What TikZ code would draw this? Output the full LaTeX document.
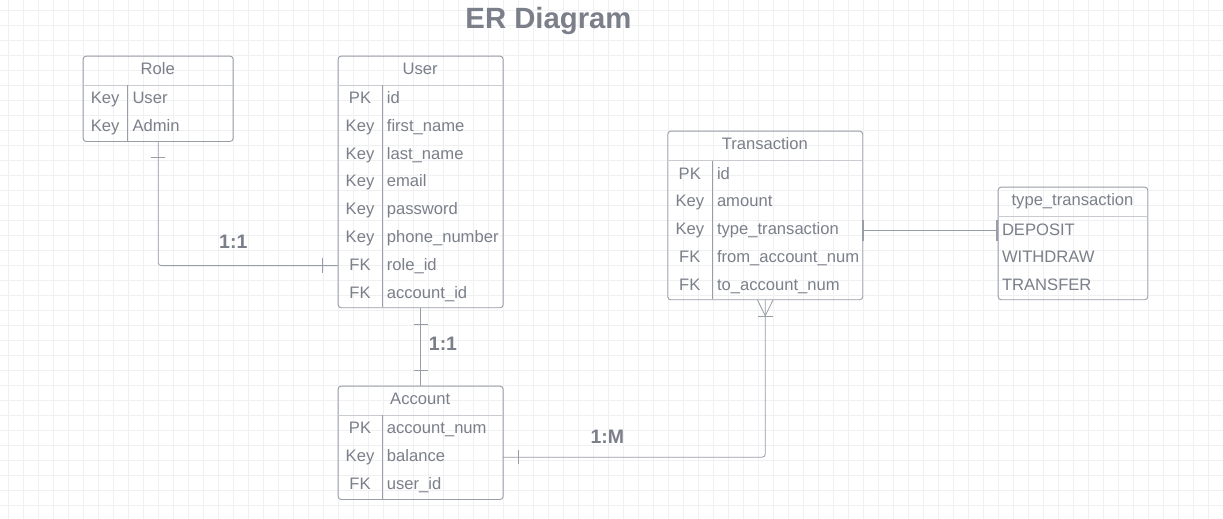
\documentclass[tikz,border=0pt]{standalone}
\usepackage{fontspec}
\setmainfont{Liberation Sans}
\definecolor{txtgray}{RGB}{122,127,137}
\definecolor{linegray}{RGB}{152,157,167}
\definecolor{hdrgray}{RGB}{200,203,208}
\definecolor{gridgray}{RGB}{240,240,242}

\begin{document}
\begin{tikzpicture}[x=1pt,y=-1pt,
  tbl/.style={draw=linegray,line width=0.9pt,rounded corners=3pt,inner sep=0,anchor=north west},
  hdrline/.style={hdrgray,line width=0.9pt},
  colline/.style={linegray,line width=0.9pt},
  hdr/.style={font=\fontsize{16.6}{19}\selectfont,text=txtgray,inner sep=0,anchor=mid},
  keytxt/.style={font=\fontsize{16.6}{19}\selectfont,text=txtgray,inner sep=0,anchor=mid},
  fld/.style={font=\fontsize{16.6}{19}\selectfont,text=txtgray,inner sep=0,anchor=mid west},
  lnk/.style={linegray,line width=0.8pt},
  bar/.style={linegray,line width=1.4pt},
  card/.style={font=\bfseries\fontsize{19.5}{22}\selectfont,text=txtgray,inner sep=0},
  ttl/.style={font=\bfseries\fontsize{29.3}{33}\selectfont,text=txtgray,inner sep=0,anchor=base}]
\useasboundingbox (0,0) rectangle (1223,519);
\fill[white] (0,0) rectangle (1223,519);
% background grid
\foreach \gx in {8.3,23.3,...,1223} \draw[gridgray,line width=0.8pt] (\gx,0) -- (\gx,519);
\foreach \gy in {10.7,25.7,...,519} \draw[gridgray,line width=0.8pt] (0,\gy) -- (1223,\gy);

\node[ttl] (title) at (548.5,28.3) {ER Diagram};

% Role
\node[tbl,minimum width=150,minimum height=85.3] (role) at (82.7,55.7) {};
\draw[hdrline] (82.7,85) -- (232.7,85);
\draw[colline] (127.7,85) -- (127.7,141);
\node[hdr] (roleh) at (157.7,71.6) {Role};
\foreach \k/\f [count=\i] in {Key/User,Key/Admin} {
  \node[keytxt] (rk\i) at (105.2,{87+28*(\i-0.5)}) {\k};
  \node[fld] (rf\i) at (132.3,{87+28*(\i-0.5)}) {\f};
}

% User
\node[tbl,minimum width=165,minimum height=251.6] (user) at (337.7,55.7) {};
\draw[hdrline] (337.7,85) -- (502.7,85);
\draw[colline] (382.3,85) -- (382.3,307.3);
\node[hdr] (userh) at (420.2,71.6) {User};
\foreach \k/\f [count=\i] in {PK/id,Key/first\_name,Key/last\_name,Key/email,Key/password,Key/phone\_number,FK/role\_id,FK/account\_id} {
  \coordinate (ur\i) at (337.7,{85+27.79*(\i-0.5)});
  \node[keytxt] (uk\i) at (360,{87+27.79*(\i-0.5)}) {\k};
  \node[fld] (uf\i) at (386.7,{87+27.79*(\i-0.5)}) {\f};
}

% Transaction
\node[tbl,minimum width=195,minimum height=168.6] (trans) at (667.3,130.7) {};
\draw[hdrline] (667.3,160.7) -- (862.3,160.7);
\draw[colline] (712.3,160.7) -- (712.3,299.3);
\node[hdr] (transh) at (764.8,146.9) {Transaction};
\foreach \k/\f [count=\i] in {PK/id,Key/amount,Key/type\_transaction,FK/from\_account\_num,FK/to\_account\_num} {
  \coordinate (tr\i) at (862.3,{160.7+27.72*(\i-0.5)});
  \node[keytxt] (tk\i) at (689.8,{162.7+27.72*(\i-0.5)}) {\k};
  \node[fld] (tf\i) at (716.8,{162.7+27.72*(\i-0.5)}) {\f};
}

% type_transaction
\node[tbl,minimum width=149.6,minimum height=112.6] (ttype) at (997.7,186.7) {};
\draw[hdrline] (997.7,216.7) -- (1147.3,216.7);
\node[hdr] (ttypeh) at (1072.5,202.9) {type\_transaction};
\foreach \f [count=\i] in {DEPOSIT,WITHDRAW,TRANSFER} {
  \node[fld] (yf\i) at (1001.8,{218.7+27.53*(\i-0.5)}) {\f};
}

% Account
\node[tbl,minimum width=165,minimum height=113.3] (account) at (337.7,385.7) {};
\draw[hdrline] (337.7,415.3) -- (502.7,415.3);
\draw[colline] (382.3,415.3) -- (382.3,499);
\node[hdr] (accounth) at (420.2,401.7) {Account};
\foreach \k/\f [count=\i] in {PK/account\_num,Key/balance,FK/user\_id} {
  \coordinate (ar\i) at (502.7,{415.3+27.9*(\i-0.5)});
  \node[keytxt] (ak\i) at (360,{417.3+27.9*(\i-0.5)}) {\k};
  \node[fld] (af\i) at (386.7,{417.3+27.9*(\i-0.5)}) {\f};
}

% Role -- User
\draw[lnk,rounded corners=3pt] (role.south) |- (ur7);
\draw[lnk] (role.south) ++(-7,15.3) -- ++(14,0);
\draw[lnk] (ur7) ++(-15.4,-7.3) -- ++(0,14.6);
\node[card] (rolecard) at (233.3,241.3) {1:1};

% User -- Account
\draw[lnk] (user.south) -- (account.north);
\draw[lnk] (user.south) ++(-7,16) -- ++(14,0);
\draw[lnk] (account.north) ++(-7,-15.4) -- ++(14,0);
\node[card] (accard) at (443,344) {1:1};

% Transaction -- type_transaction
\draw[lnk] (tr3) -- (ttype.west |- tr3);
\draw[bar] (tr3) ++(0.6,-10.5) -- ++(0,21);
\draw[bar] (ttype.west |- tr3) ++(-0.6,-10.5) -- ++(0,21);

% Account -- Transaction
\draw[lnk,rounded corners=3pt] (ar2) -| (trans.south);
\draw[lnk] (ar2) ++(16,-6.8) -- ++(0,13.6);
\draw[lnk] (trans.south) ++(-7.7,0) -- ++(7.7,15.5) -- ++(7.7,-15.5);
\draw[lnk] (trans.south) ++(-7.7,15.7) -- ++(15.4,0);
\node[card] (trcard) at (607.3,436.7) {1:M};
\end{tikzpicture}
\end{document}
